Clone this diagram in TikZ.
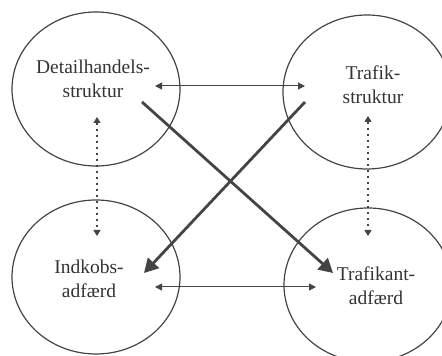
\documentclass[tikz,border=0pt]{standalone}
\usepackage{fontspec}
\setmainfont{Liberation Serif}
\usetikzlibrary{arrows.meta}
\usetikzlibrary{shapes.geometric}

\definecolor{ink}{HTML}{444444}
\definecolor{lettering}{HTML}{333333}

\tikzset{
    ring/.style={draw=ink, line width=1.2pt, ellipse, minimum width=168pt, minimum height=154pt},
    word/.style={align=center, text=lettering, font=\fontsize{19.5}{24}\selectfont},
    thin/.style={draw=ink, line width=1pt, {Triangle[length=7pt,width=7pt]}-{Triangle[length=7pt,width=7pt]}},
    dots/.style={draw=ink, line width=1.2pt, dash pattern=on 2pt off 4pt, {Triangle[length=6pt,width=7pt]}-{Triangle[length=6pt,width=7pt]}},
    heavy/.style={draw=ink, line width=2.8pt, -{Triangle[length=14pt,width=15pt]}}
}

\begin{document}
\begin{tikzpicture}[x=1pt,y=1pt]

            \useasboundingbox (0,0) rectangle (442,356);
            \clip (0,0) rectangle (442,356);

            % circles

            \node[ring] (detailring) at (96, 267) {};
            \node[ring] (trafikring) at (367, 264) {};
            \node[ring] (adfaerdring) at (368, 71) {};
            \node[ring] (indkobring) at (96, 79) {};

            % texts

            \node[word] (detail) at (93, 277) {Detailhandels-\\struktur};
            \node[word] (trafik) at (373, 271) {Trafik-\\struktur};
            \node[word] (indkob) at (89, 77) {Indkobs-\\adfærd};
            \node[word] (adfaerd) at (376, 70) {Trafikant-\\adfærd};

            % ends of the connectors

            \coordinate (A1) at (155, 270);
            \coordinate (A2) at (305, 270);
            \coordinate (B1) at (155, 69);
            \coordinate (B2) at (316, 69);
            \coordinate (C1) at (97, 239);
            \coordinate (C2) at (97, 120);
            \coordinate (D1) at (368, 240);
            \coordinate (D2) at (368, 120);
            \coordinate (E1) at (142, 254);
            \coordinate (E2) at (333, 83);
            \coordinate (F1) at (305, 254);
            \coordinate (F2) at (144, 83);

            \draw[thin] (A1) -- (A2);
            \draw[thin] (B1) -- (B2);
            \draw[dots] (C1) -- (C2);
            \draw[dots] (D1) -- (D2);
            \draw[heavy] (E1) -- (E2);
            \draw[heavy] (F1) -- (F2);
        \end{tikzpicture}
\end{document}
